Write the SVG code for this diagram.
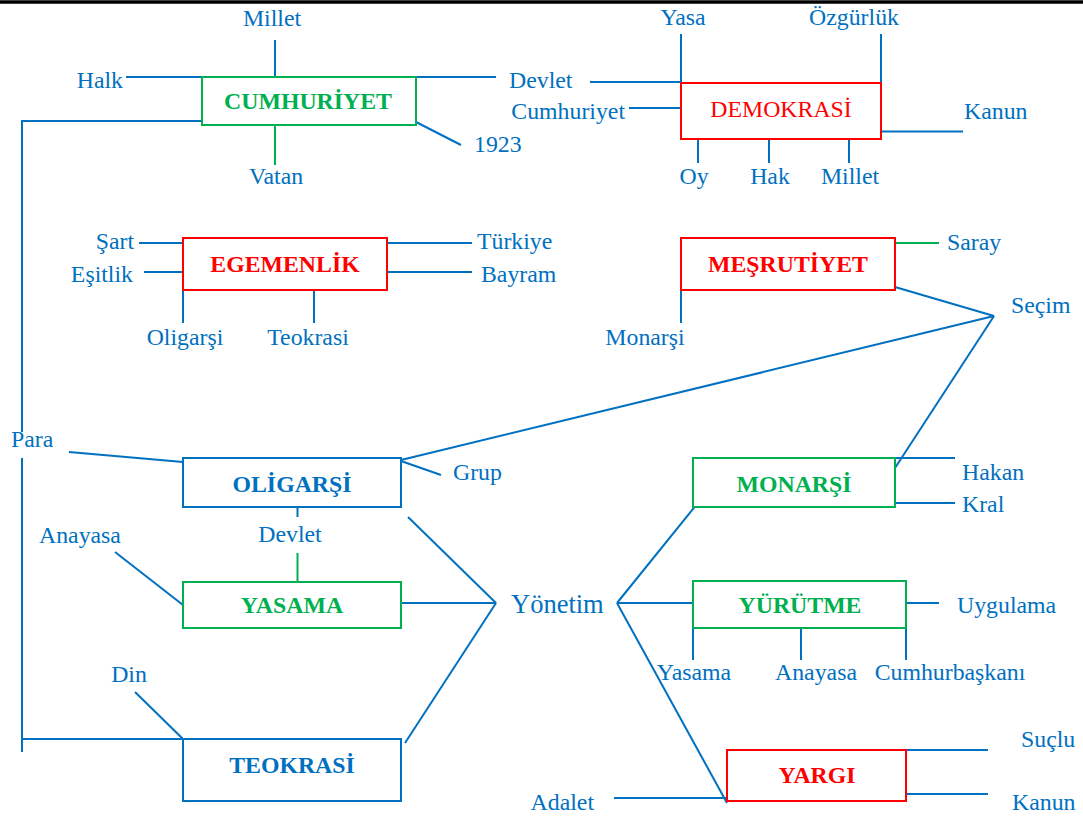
<svg xmlns="http://www.w3.org/2000/svg" width="1083" height="817" viewBox="0 0 1083 817">
<style>
.t{font-family:"Liberation Serif","Times New Roman",serif;font-size:23.8px;fill:#0070C0}
.m{text-anchor:middle}
.e{text-anchor:end}
.b{font-family:"Liberation Serif","Times New Roman",serif;font-size:23.8px;font-weight:bold;text-anchor:middle}
.r{font-family:"Liberation Serif","Times New Roman",serif;font-size:23.8px;text-anchor:middle}
.bx{fill:#fff;stroke-width:2}
.g{stroke:#00B050}
.rd{stroke:#FF0000}
.bl{stroke:#0070C0}
.c line,.c polyline{stroke:#0070C0;stroke-width:2;fill:none}
.c .gl{stroke:#00B050}
</style>
<rect x="0" y="0" width="1083" height="817" fill="#fff"/>
<line x1="0" y1="2" x2="1083" y2="2" stroke="#000" stroke-width="3.5"/>
<g class="c" id="connectors">
<line x1="275" y1="40" x2="275" y2="77"/>
<line x1="126" y1="77" x2="202" y2="77"/>
<line x1="416" y1="77" x2="496" y2="77"/>
<line x1="416" y1="122" x2="461" y2="145"/>
<line class="gl" x1="275" y1="125" x2="275" y2="165"/>
<polyline points="202,121 22,121 22,432"/>
<polyline points="22,458 22,752"/>
<line x1="22" y1="739" x2="183" y2="739"/>
<line x1="681" y1="34" x2="681" y2="83"/>
<line x1="881" y1="34" x2="881" y2="83"/>
<line x1="590" y1="82" x2="681" y2="82"/>
<line x1="629" y1="108" x2="681" y2="108"/>
<line x1="881" y1="131.5" x2="963" y2="131.5"/>
<line x1="698" y1="139" x2="698" y2="163"/>
<line x1="769" y1="139" x2="769" y2="163"/>
<line x1="849" y1="139" x2="849" y2="163"/>
<line x1="139" y1="243" x2="183" y2="243"/>
<line x1="144" y1="272" x2="183" y2="272"/>
<line x1="387" y1="243" x2="472" y2="243"/>
<line x1="387" y1="272" x2="472" y2="272"/>
<line x1="183" y1="290" x2="183" y2="323"/>
<line x1="314" y1="290" x2="314" y2="323"/>
<line class="gl" x1="895" y1="243" x2="939" y2="243"/>
<line x1="681" y1="290" x2="681" y2="323"/>
<line x1="895" y1="287" x2="994" y2="316"/>
<line x1="401" y1="460" x2="994" y2="316"/>
<line x1="994" y1="316" x2="895" y2="468"/>
<line x1="69" y1="452" x2="183" y2="462"/>
<line x1="401" y1="461" x2="441" y2="475"/>
<line x1="297.5" y1="507" x2="297.5" y2="517"/>
<line class="gl" x1="297.5" y1="553" x2="297.5" y2="583"/>
<line x1="408" y1="517" x2="496" y2="603"/>
<line x1="115" y1="552" x2="183" y2="605"/>
<line x1="401" y1="603" x2="496" y2="603"/>
<line x1="135" y1="692" x2="183" y2="739"/>
<line x1="405" y1="743" x2="496" y2="603"/>
<line x1="895" y1="458" x2="955" y2="458"/>
<line x1="895" y1="503" x2="955" y2="503"/>
<line x1="617" y1="603" x2="697" y2="504"/>
<line x1="617" y1="603" x2="693" y2="603"/>
<line x1="906" y1="603" x2="939" y2="603"/>
<line x1="693" y1="628" x2="693" y2="660"/>
<line x1="801" y1="628" x2="801" y2="660"/>
<line x1="906" y1="628" x2="906" y2="660"/>
<line x1="617" y1="603" x2="727" y2="803"/>
<line x1="906" y1="750" x2="988" y2="750"/>
<line x1="906" y1="794" x2="988" y2="794"/>
<line x1="614" y1="798" x2="727" y2="798"/>
</g>
<g id="cumhuriyet">
<rect class="bx g" x="202" y="77" width="214" height="48"/>
<text class="b" x="308" y="109" fill="#00B050">CUMHURİYET</text>
<text class="t m" x="272" y="26">Millet</text>
<text class="t e" x="123" y="88">Halk</text>
<text class="t" x="509" y="88">Devlet</text>
<text class="t" x="474" y="152">1923</text>
<text class="t m" x="276" y="184">Vatan</text>
</g>
<g id="demokrasi">
<rect class="bx rd" x="681" y="83" width="200" height="56"/>
<text class="r" x="781" y="117" fill="#FF0000">DEMOKRASİ</text>
<text class="t m" x="683" y="25">Yasa</text>
<text class="t m" x="854" y="25">Özgürlük</text>
<text class="t e" x="625" y="119">Cumhuriyet</text>
<text class="t" x="964" y="119">Kanun</text>
<text class="t m" x="694" y="184">Oy</text>
<text class="t m" x="770" y="184">Hak</text>
<text class="t m" x="850" y="184">Millet</text>
</g>
<g id="egemenlik">
<rect class="bx rd" x="183" y="238" width="204" height="52"/>
<text class="b" x="285" y="272" fill="#FF0000">EGEMENLİK</text>
<text class="t e" x="134" y="249">Şart</text>
<text class="t e" x="133" y="282">Eşitlik</text>
<text class="t" x="477" y="249">Türkiye</text>
<text class="t" x="481" y="282">Bayram</text>
<text class="t m" x="185" y="345">Oligarşi</text>
<text class="t m" x="308" y="345">Teokrasi</text>
</g>
<g id="mesrutiyet">
<rect class="bx rd" x="681" y="238" width="214" height="52"/>
<text class="b" x="788" y="272" fill="#FF0000">MEŞRUTİYET</text>
<text class="t" x="947" y="250">Saray</text>
<text class="t m" x="645" y="345">Monarşi</text>
<text class="t" x="1011" y="313">Seçim</text>
</g>
<g id="oligarsi">
<rect class="bx bl" x="183" y="458" width="218" height="49"/>
<text class="b" x="292" y="492" fill="#0070C0">OLİGARŞİ</text>
<text class="t" x="11" y="447">Para</text>
<text class="t" x="453" y="480">Grup</text>
<text class="t m" x="290" y="542">Devlet</text>
</g>
<g id="yasama">
<rect class="bx g" x="183" y="582" width="218" height="46"/>
<text class="b" x="292" y="613" fill="#00B050">YASAMA</text>
<text class="t" x="39" y="543">Anayasa</text>
</g>
<g id="teokrasi">
<rect class="bx bl" x="183" y="739" width="218" height="62"/>
<text class="b" x="292" y="773" fill="#0070C0">TEOKRASİ</text>
<text class="t m" x="129" y="682">Din</text>
</g>
<g id="yonetim">
<text x="511" y="613" font-family="Liberation Serif,Times New Roman,serif" font-size="26.5" fill="#0070C0">Yönetim</text>
</g>
<g id="monarsi">
<rect class="bx g" x="693" y="458" width="202" height="49"/>
<text class="b" x="794" y="492" fill="#00B050">MONARŞİ</text>
<text class="t" x="962" y="480">Hakan</text>
<text class="t" x="962" y="512">Kral</text>
</g>
<g id="yurutme">
<rect class="bx g" x="693" y="581" width="213" height="47"/>
<text class="b" x="800" y="613" fill="#00B050">YÜRÜTME</text>
<text class="t" x="957" y="613">Uygulama</text>
<text class="t m" x="694" y="680">Yasama</text>
<text class="t m" x="816" y="680">Anayasa</text>
<text class="t m" x="950" y="680">Cumhurbaşkanı</text>
</g>
<g id="yargi">
<rect class="bx rd" x="727" y="750" width="179" height="51"/>
<text class="b" x="817" y="783" fill="#FF0000">YARGI</text>
<text class="t" x="1021" y="747">Suçlu</text>
<text class="t" x="1012" y="810">Kanun</text>
<text class="t e" x="594" y="810">Adalet</text>
</g>
</svg>
